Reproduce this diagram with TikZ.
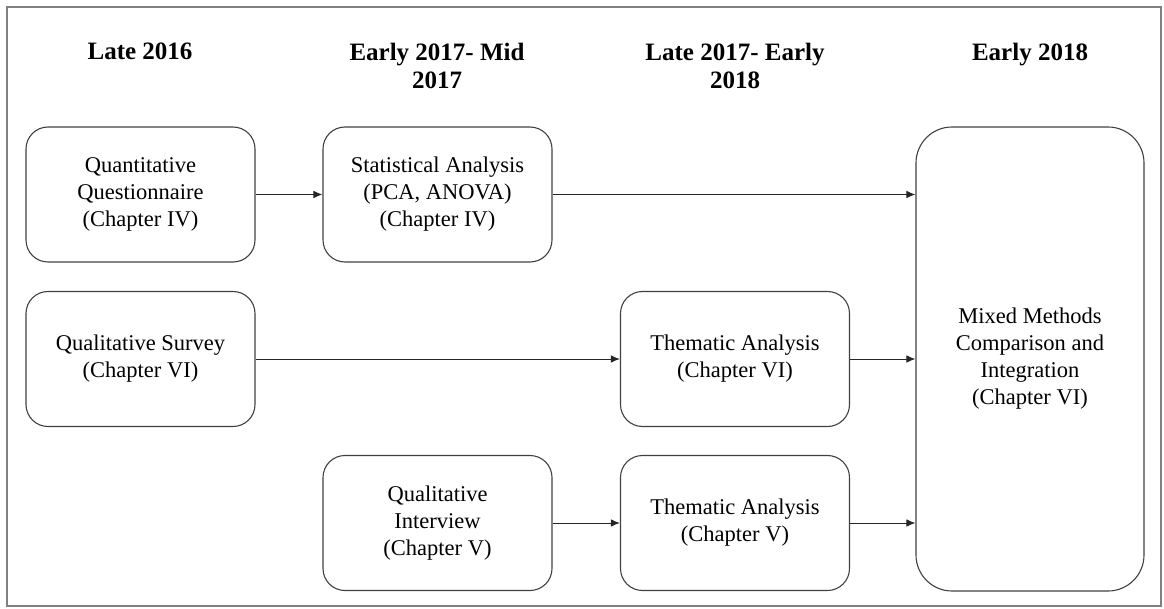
\documentclass[tikz,border=0pt]{standalone}
\usepackage{fontspec}
\setmainfont{Liberation Serif}
\usetikzlibrary{arrows.meta}
\begin{document}
\begin{tikzpicture}[x=1pt,y=-1pt]
\tikzstyle{phase}=[anchor=north,align=center,font=\bfseries\fontsize{25}{28}\selectfont,inner sep=0pt]
\tikzstyle{task}=[draw=black!75,line width=1.1pt,rounded corners=22pt,minimum width=229pt,minimum height=135pt,align=center,font=\fontsize{22.5}{27}\selectfont,inner sep=0pt]
\tikzstyle{final}=[task,rounded corners=36pt,minimum width=228pt,minimum height=464pt]
\tikzstyle{flow}=[-{Latex[length=9pt,width=7.5pt]},line width=0.9pt,black!85]

\useasboundingbox (0,0) rectangle (1164,609);
\draw[black!50,line width=1.5pt] (7,7) rectangle (1161,606);

\node[phase] (late16)  at (140,43)  {Late 2016};
\node[phase] (early17) at (437,43)  {Early 2017- Mid\\2017};
\node[phase] (late17)  at (735,43)  {Late 2017- Early\\2018};
\node[phase] (early18) at (1030,43) {Early 2018};

\node[task] (quantQ)  at (140.5,194.5) {Quantitative\\Questionnaire\\(Chapter IV)};
\node[task] (statAn)  at (437.5,194.5) {Statistical Analysis\\(PCA, ANOVA)\\(Chapter IV)};
\node[task] (qualSurv) at (140.5,359) {Qualitative Survey\\(Chapter VI)};
\node[task] (themSurv) at (735,359)  {Thematic Analysis\\(Chapter VI)};
\node[task] (qualInt)  at (437.5,523) {Qualitative\\Interview\\(Chapter V)};
\node[task] (themInt)  at (735,523)  {Thematic Analysis\\(Chapter V)};

\node[final] (mixed) at (1030,359) {Mixed Methods\\Comparison and\\Integration\\(Chapter VI)};

\draw[flow] (quantQ) -- (statAn);
\draw[flow] (statAn) -- (statAn -| mixed.west);
\draw[flow] (qualSurv) -- (themSurv);
\draw[flow] (themSurv) -- (themSurv -| mixed.west);
\draw[flow] (qualInt) -- (themInt);
\draw[flow] (themInt) -- (themInt -| mixed.west);

\end{tikzpicture}
\end{document}
